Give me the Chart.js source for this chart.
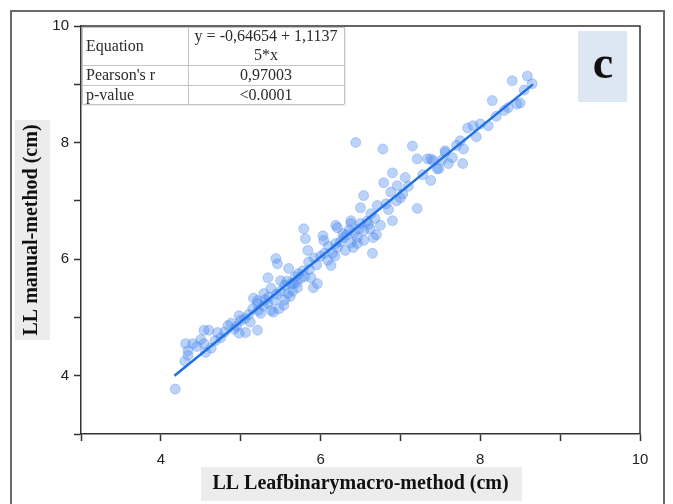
<!DOCTYPE html>
<html>
<head>
<meta charset="utf-8">
<script src="https://cdn.jsdelivr.net/npm/chart.js@4"></script>
<style>
  html, body { margin: 0; padding: 0; background: #fff; }
  #wrap { width: 673px; height: 504px; position: relative; }
</style>
</head>
<body>
<div id="wrap"><canvas id="llChart" width="673" height="504"></canvas></div>
<script>
// LL from Leafbinarymacro (x) vs manual method (y)
const macroLL = [
  4.18, 4.31, 4.34, 4.34, 4.54, 4.54, 4.56, 4.63, 4.71, 4.84, 4.88, 4.98, 5.00, 4.98, 5.06, 5.21, 5.21, 5.25, 5.34, 5.41,
  4.30, 4.45, 4.60, 4.75, 4.92, 5.10, 5.15, 5.28,
  5.16, 5.21, 5.29, 5.38, 5.44, 5.46, 5.54, 5.60, 5.63, 5.71, 5.75, 5.79, 5.81, 5.84, 5.88, 5.91, 5.96, 6.03, 6.04, 6.09,
  6.13, 6.15, 6.19, 6.21, 6.28, 6.31, 6.38, 6.38, 6.41, 6.46, 6.50, 6.54, 5.34, 5.50, 5.59, 5.38,
  5.45, 5.55, 5.65, 5.68, 5.78, 5.85, 5.92, 5.55, 5.70, 5.62, 5.48,
  6.44, 6.78, 7.15, 7.21, 7.38, 7.56, 6.90, 6.79, 6.96, 7.06, 7.38, 7.46, 6.54, 6.71, 7.03, 7.21, 6.50, 6.38, 6.63, 6.90,
  6.75, 6.54, 6.21, 6.29, 6.66, 6.46, 6.19, 6.65, 6.70, 6.85, 6.60, 6.95,
  8.40, 8.59, 8.65, 8.15, 8.50, 8.46, 7.84, 7.91, 8.00, 8.10, 7.75, 7.56, 7.79, 7.65, 7.34, 7.41, 7.60, 7.78, 7.48,
  8.55, 8.30, 7.95,
  4.40, 4.50, 4.68, 4.80, 4.95, 5.05, 5.12, 5.22, 5.30, 5.35, 5.42, 5.50, 5.58, 5.66, 5.72, 5.80, 5.86, 5.95, 6.00, 6.05,
  6.10, 6.18, 6.25, 6.33, 6.36, 6.42, 6.48, 6.58, 6.62, 6.68, 6.82, 6.88, 7.00, 7.10, 7.28, 7.52, 7.70, 8.20, 8.35
]
const manualLL = [
  3.77, 4.55, 4.43, 4.35, 4.78, 4.55, 4.40, 4.47, 4.74, 4.86, 4.90, 5.03, 4.95, 4.73, 4.74, 4.78, 5.29, 5.07, 5.24, 5.09,
  4.25, 4.50, 4.78, 4.65, 4.80, 5.05, 5.15, 5.20,
  5.33, 5.24, 5.41, 5.50, 6.01, 5.92, 5.21, 5.84, 5.58, 5.51, 5.67, 6.52, 6.35, 6.15, 5.68, 5.51, 5.58, 6.40, 6.32, 5.98,
  5.89, 6.10, 6.58, 6.20, 6.44, 6.15, 6.61, 6.28, 6.20, 6.37, 6.61, 6.32, 5.68, 5.63, 5.41, 5.12,
  5.40, 5.55, 5.45, 5.70, 5.80, 5.95, 6.02, 5.30, 5.60, 5.36, 5.15,
  8.00, 7.89, 7.94, 7.72, 7.72, 7.83, 7.48, 7.31, 7.26, 7.40, 7.35, 7.55, 7.09, 6.92, 7.12, 6.87, 6.88, 6.66, 6.78, 6.66,
  6.58, 6.49, 6.54, 6.37, 6.37, 6.27, 6.27, 6.10, 6.42, 6.85, 6.60, 7.00,
  9.06, 9.14, 9.01, 8.72, 8.68, 8.66, 8.25, 8.29, 8.32, 8.29, 8.03, 7.86, 7.89, 7.74, 7.72, 7.69, 7.64, 7.64, 7.55,
  8.90, 8.55, 8.10,
  4.55, 4.62, 4.60, 4.75, 4.85, 4.98, 4.92, 5.12, 5.30, 5.35, 5.30, 5.45, 5.62, 5.58, 5.75, 5.70, 5.82, 5.90, 6.05, 6.10,
  6.22, 6.05, 6.30, 6.42, 6.50, 6.45, 6.52, 6.65, 6.52, 6.70, 6.95, 7.15, 7.05, 7.25, 7.45, 7.70, 7.95, 8.45, 8.60
]

// fit reported in the inset table
const intercept = -0.64654
const slope = 1.11375
const fitRange = [4.17, 8.66]

const tableRows = [
  ['Equation', 'y = -0,64654 + 1,1137', '5*x'],
  ["Pearson's r", '0,97003'],
  ['p-value', '<0.0001']
]
const panelLabel = 'c'
const xTitle = 'LL Leafbinarymacro-method (cm)'
const yTitle = 'LL manual-method (cm)'

const points = macroLL.map((x, i) => ({x: x, y: manualLL[i]}))
const fitLine = fitRange.map(x => ({x: x, y: intercept + slope * x}))

const serif = '"Liberation Serif", "Times New Roman", serif'
const sans = '"Liberation Sans", Arial, sans-serif'

// frame, title boxes, inset table and panel letter
const decorations = {
  id: 'decorations',
  beforeDraw(chart) {
    const ctx = chart.ctx
    ctx.save()
    ctx.fillStyle = '#fff'
    ctx.fillRect(0, 0, chart.width, chart.height)
    // outer border
    ctx.strokeStyle = '#6a6a6a'
    ctx.lineWidth = 2
    ctx.beginPath()
    ctx.moveTo(11, 520); ctx.lineTo(11, 11); ctx.lineTo(664, 11); ctx.lineTo(664, 520)
    ctx.stroke()
    // axis title backgrounds
    ctx.fillStyle = '#ececec'
    ctx.fillRect(201, 467, 321, 34)
    ctx.fillRect(15, 120, 35, 220)
    ctx.restore()
  },
  afterDraw(chart) {
    const ctx = chart.ctx
    const a = chart.chartArea
    ctx.save()
    // top and right frame of plot
    ctx.strokeStyle = '#333'
    ctx.lineWidth = 1.5
    ctx.beginPath()
    ctx.moveTo(a.left, a.top); ctx.lineTo(a.right, a.top); ctx.lineTo(a.right, a.bottom)
    ctx.stroke()

    // inset table
    const colX = [82, 188, 344]
    const rowY = [27, 65, 85, 104]
    ctx.fillStyle = 'rgba(0,0,0,0.08)'
    ctx.fillRect(colX[0] + 2, rowY[0] + 2, colX[2] - colX[0], rowY[3] - rowY[0])
    ctx.fillStyle = '#fff'
    ctx.fillRect(colX[0], rowY[0], colX[2] - colX[0], rowY[3] - rowY[0])
    ctx.strokeStyle = '#c4c4c4'
    ctx.lineWidth = 1
    ctx.beginPath()
    rowY.forEach(y => { ctx.moveTo(colX[0], y + 0.5); ctx.lineTo(colX[2], y + 0.5) })
    colX.forEach(x => { ctx.moveTo(x + 0.5, rowY[0]); ctx.lineTo(x + 0.5, rowY[3]) })
    ctx.stroke()
    ctx.fillStyle = '#2a2a2a'
    ctx.font = '16px ' + serif
    ctx.textBaseline = 'middle'
    tableRows.forEach((row, i) => {
      const yMid = (rowY[i] + rowY[i + 1]) / 2
      ctx.textAlign = 'left'
      ctx.fillText(row[0], colX[0] + 4, yMid + 1)
      ctx.textAlign = 'center'
      const cx = (colX[1] + colX[2]) / 2
      if (row.length > 2) {
        ctx.fillText(row[1], cx, yMid - 9)
        ctx.fillText(row[2], cx, yMid + 10)
      } else {
        ctx.fillText(row[1], cx, yMid + 1)
      }
    })

    // panel letter
    ctx.fillStyle = '#dce7f3'
    ctx.fillRect(578, 31, 49, 71)
    ctx.fillStyle = '#111'
    ctx.font = 'bold 46px ' + serif
    ctx.textAlign = 'center'
    ctx.textBaseline = 'middle'
    ctx.fillText(panelLabel, 603, 66)
    ctx.restore()
  }
}

const evenLabel = v => (v % 2 === 0 ? String(v) : '')

new Chart(document.getElementById('llChart'), {
  type: 'scatter',
  data: {
    datasets: [
      {
        label: 'data',
        data: points,
        backgroundColor: 'rgba(75, 140, 240, 0.38)',
        borderColor: 'rgba(70, 130, 235, 0.3)',
        borderWidth: 1,
        pointRadius: 5,
        order: 2
      },
      {
        type: 'line',
        label: 'fit',
        data: fitLine,
        borderColor: '#1f6fe5',
        borderWidth: 2.5,
        pointRadius: 0,
        fill: false,
        order: 1
      }
    ]
  },
  plugins: [decorations],
  options: {
    responsive: false,
    animation: false,
    devicePixelRatio: 1,
    layout: { padding: { top: 26, right: 33, bottom: 0, left: 0 } },
    plugins: { legend: { display: false }, tooltip: { enabled: false } },
    scales: {
      x: {
        type: 'linear',
        min: 3, max: 10,
        afterFit: s => { s.height = 70 },
        ticks: { stepSize: 1, autoSkip: false, maxRotation: 0, padding: 10, color: '#222', font: { family: sans, size: 15 }, callback: evenLabel },
        grid: { drawOnChartArea: false, drawTicks: true, tickLength: 7, color: '#333', tickWidth: 1.5 },
        border: { color: '#333', width: 1.5 },
        title: { display: true, text: xTitle, color: '#111', font: { family: serif, size: 20, weight: 'bold' }, padding: { top: 0, bottom: 8 } }
      },
      y: {
        type: 'linear',
        min: 3, max: 10,
        afterFit: s => { s.width = 81 },
        ticks: { stepSize: 1, autoSkip: false, padding: 5, color: '#222', font: { family: sans, size: 15 }, callback: evenLabel },
        grid: { drawOnChartArea: false, drawTicks: true, tickLength: 7, color: '#333', tickWidth: 1.5 },
        border: { color: '#333', width: 1.5 },
        title: { display: true, text: yTitle, color: '#111', font: { family: serif, size: 20, weight: 'bold' }, padding: { top: 20, bottom: 0 } }
      }
    }
  }
})
</script>
</body>
</html>
